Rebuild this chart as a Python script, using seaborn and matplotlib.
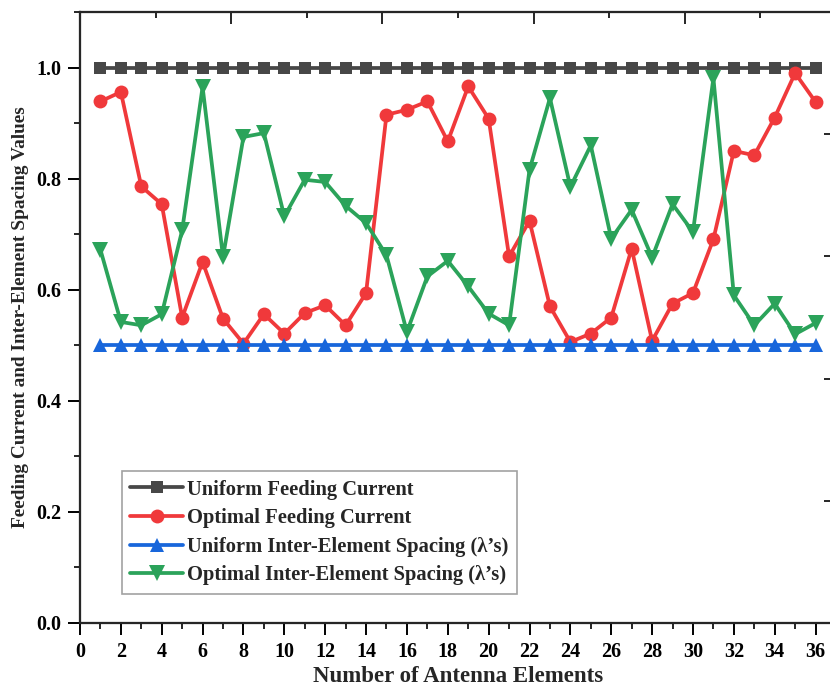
import matplotlib
matplotlib.use("Agg")
import matplotlib.pyplot as plt
from matplotlib.ticker import MultipleLocator
import pandas as pd
import seaborn as sns

# antenna element index
elements = list(range(1, 37))

uniform_current = [1.0] * len(elements)
optimal_current = [
    0.939, 0.956, 0.786, 0.754, 0.550, 0.650, 0.548, 0.503, 0.556, 0.521,
    0.558, 0.572, 0.536, 0.594, 0.915, 0.924, 0.939, 0.867, 0.966, 0.908,
    0.660, 0.724, 0.570, 0.506, 0.521, 0.550, 0.674, 0.508, 0.575, 0.594,
    0.691, 0.850, 0.842, 0.910, 0.990, 0.938,
]
uniform_spacing = [0.5] * len(elements)
optimal_spacing = [
    0.672, 0.542, 0.536, 0.556, 0.707, 0.965, 0.659, 0.875, 0.882, 0.732,
    0.798, 0.794, 0.751, 0.720, 0.662, 0.524, 0.624, 0.652, 0.606, 0.557,
    0.536, 0.816, 0.945, 0.785, 0.860, 0.692, 0.744, 0.658, 0.754, 0.704,
    0.981, 0.590, 0.536, 0.575, 0.520, 0.540,
]

series_names = [
    "Uniform Feeding Current",
    "Optimal Feeding Current",
    "Uniform Inter-Element Spacing (\u03bb\u2019s)",
    "Optimal Inter-Element Spacing (\u03bb\u2019s)",
]
series_values = [uniform_current, optimal_current, uniform_spacing, optimal_spacing]
colors = ["#474747", "#F0393B", "#1866DB", "#2BA35A"]
markers = ["s", "o", "^", "v"]
msizes = [9.0, 10.0, 10.5, 11.0]

sns.set_theme(style="ticks")
plt.rcParams["font.family"] = ["Liberation Serif", "DejaVu Serif"]
plt.rcParams["font.weight"] = "bold"

fig = plt.figure(figsize=(8.30, 6.86), dpi=100)
ax = fig.add_axes([80 / 830, 63 / 686, 756 / 830, 611 / 686])

for name, vals, col, mk, ms in zip(series_names, series_values, colors, markers, msizes):
    df = pd.DataFrame({"element": elements, "value": vals})
    sns.lineplot(
        data=df, x="element", y="value", ax=ax, color=col, marker=mk,
        markersize=ms, markeredgewidth=0, linewidth=2.7, label=name,
    )

ax.set_xlim(0, 37)
ax.set_ylim(0, 1.1)
ax.xaxis.set_major_locator(MultipleLocator(2))
ax.xaxis.set_minor_locator(MultipleLocator(1))
ax.yaxis.set_major_locator(MultipleLocator(0.2))
ax.yaxis.set_minor_locator(MultipleLocator(0.1))
ax.yaxis.set_major_formatter(matplotlib.ticker.FormatStrFormatter("%.1f"))
ax.tick_params(which="major", direction="out", length=8.5, width=1.4,
               labelsize=14.5, pad=5, colors="black")
ax.tick_params(which="minor", direction="out", length=4.3, width=1.4)
for lab in ax.get_xticklabels() + ax.get_yticklabels():
    lab.set_fontweight("bold")
for sp in ax.spines.values():
    sp.set_linewidth(1.5)
    sp.set_color("black")

ax.set_xlabel("Number of Antenna Elements", fontsize=16.5, fontweight="bold", labelpad=3)
ax.set_ylabel("Feeding Current and Inter-Element Spacing Values", fontsize=13.9,
              fontweight="bold", labelpad=5)

# top and right axes of the original layer: ticks only
ax_top = ax.twiny()
ax_top.set_xlim(0, 5)
ax_top.xaxis.set_major_locator(MultipleLocator(1))
ax_top.xaxis.set_minor_locator(MultipleLocator(0.5))
ax_top.tick_params(which="both", direction="in", labeltop=False, width=1.4)
ax_top.tick_params(which="major", length=8.5)
ax_top.tick_params(which="minor", length=4.3)
ax_right = ax.twinx()
ax_right.set_ylim(0, 5)
ax_right.yaxis.set_major_locator(MultipleLocator(1))
ax_right.yaxis.set_minor_locator(MultipleLocator(0.5))
ax_right.tick_params(which="both", direction="in", labelright=False, width=1.4)
ax_right.tick_params(which="major", length=8.5)
ax_right.tick_params(which="minor", length=4.3)
for a in (ax_top, ax_right):
    for sp in a.spines.values():
        sp.set_linewidth(1.5)

leg = ax.legend(loc="lower left", bbox_to_anchor=(0.055, 0.048), borderaxespad=0,
                frameon=True, fancybox=False, handlelength=2.6, handletextpad=0.2,
                labelspacing=0.42, borderpad=0.4, prop={"weight": "bold", "size": 14.8})
leg.get_frame().set_edgecolor("#8a8a8a")
leg.get_frame().set_linewidth(1.2)
leg.set_zorder(10)

fig.savefig("out.png", dpi=100)
